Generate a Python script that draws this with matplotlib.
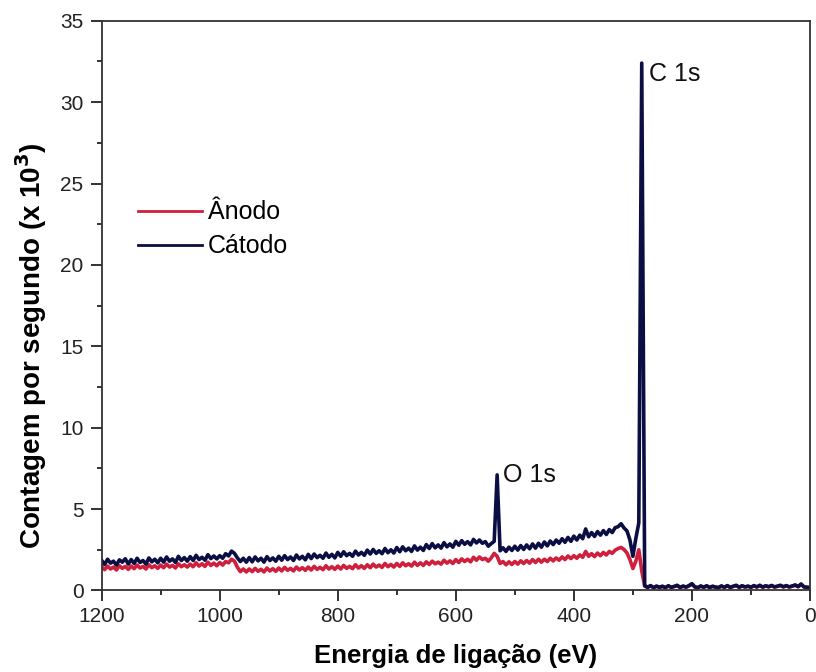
import matplotlib
matplotlib.use("Agg")
import matplotlib.pyplot as plt
from matplotlib.ticker import MultipleLocator

plt.rcParams['font.family'] = ['Liberation Sans', 'DejaVu Sans']

# Binding energy grid (eV), 1200 -> 0 in 5 eV steps
energia = list(range(1200, -1, -5))

catodo = [
    1.85, 1.60, 1.92, 1.68, 1.80, 1.56, 1.88, 1.74, 1.95, 1.62,
    1.90, 1.66, 1.98, 1.72, 1.84, 1.62, 2.00, 1.76, 1.92, 1.70,
    1.98, 1.74, 2.06, 1.80, 1.94, 1.72, 2.10, 1.84, 2.02, 1.80,
    2.08, 1.84, 2.16, 1.90, 2.04, 1.86, 2.20, 1.96, 2.12, 1.94,
    2.14, 1.98, 2.26, 2.12, 2.42, 2.28, 2.00, 1.78, 1.98, 1.74,
    2.02, 1.76, 2.06, 1.82, 1.98, 1.74, 2.08, 1.84, 2.00, 1.80,
    2.10, 1.86, 2.14, 1.90, 2.06, 1.84, 2.18, 1.94, 2.10, 1.88,
    2.22, 1.96, 2.24, 2.02, 2.16, 1.98, 2.30, 2.04, 2.22, 2.00,
    2.34, 2.10, 2.38, 2.14, 2.28, 2.10, 2.42, 2.18, 2.34, 2.16,
    2.48, 2.24, 2.52, 2.28, 2.44, 2.26, 2.58, 2.32, 2.50, 2.30,
    2.64, 2.38, 2.68, 2.44, 2.60, 2.40, 2.74, 2.48, 2.66, 2.46,
    2.82, 2.58, 2.88, 2.62, 2.80, 2.60, 2.94, 2.68, 2.86, 2.66,
    3.02, 2.78, 3.06, 2.84, 3.00, 2.80, 3.14, 2.92, 3.10, 2.90,
    3.00, 2.72, 2.88, 3.02, 7.10, 2.44, 2.62, 2.40, 2.66, 2.46,
    2.72, 2.48, 2.76, 2.52, 2.80, 2.56, 2.86, 2.60, 2.90, 2.66,
    2.98, 2.74, 3.04, 2.82, 3.10, 2.90, 3.18, 2.96, 3.26, 3.02,
    3.34, 3.10, 3.40, 3.18, 3.78, 3.30, 3.56, 3.32, 3.62, 3.40,
    3.68, 3.44, 3.74, 3.56, 3.86, 3.92, 4.10, 3.84, 3.66, 3.10,
    2.10, 3.20, 4.15, 32.40, 0.30, 0.20, 0.30, 0.18, 0.27, 0.20,
    0.26, 0.18, 0.29, 0.20, 0.25, 0.32, 0.19, 0.27, 0.21, 0.30,
    0.42, 0.22, 0.18, 0.28, 0.20, 0.29, 0.19, 0.26, 0.21, 0.18,
    0.28, 0.20, 0.30, 0.19, 0.26, 0.32, 0.20, 0.29, 0.22, 0.27,
    0.20, 0.30, 0.22, 0.32, 0.21, 0.29, 0.23, 0.31, 0.22, 0.27,
    0.32, 0.23, 0.30, 0.22, 0.28, 0.34, 0.24, 0.40, 0.22, 0.20,
    0.18,
]

anodo = [
    1.46, 1.28, 1.50, 1.32, 1.44, 1.26, 1.52, 1.36, 1.48, 1.30,
    1.50, 1.34, 1.56, 1.38, 1.48, 1.32, 1.58, 1.40, 1.52, 1.36,
    1.56, 1.40, 1.62, 1.44, 1.54, 1.38, 1.64, 1.46, 1.58, 1.44,
    1.62, 1.46, 1.70, 1.50, 1.64, 1.48, 1.74, 1.54, 1.68, 1.52,
    1.72, 1.56, 1.78, 1.70, 1.92, 1.80, 1.42, 1.16, 1.32, 1.14,
    1.32, 1.16, 1.36, 1.18, 1.30, 1.14, 1.38, 1.20, 1.34, 1.18,
    1.38, 1.20, 1.42, 1.24, 1.36, 1.20, 1.44, 1.26, 1.40, 1.24,
    1.44, 1.26, 1.48, 1.30, 1.42, 1.28, 1.52, 1.32, 1.46, 1.30,
    1.50, 1.32, 1.54, 1.36, 1.48, 1.34, 1.58, 1.38, 1.52, 1.36,
    1.58, 1.40, 1.62, 1.44, 1.56, 1.42, 1.66, 1.46, 1.60, 1.44,
    1.66, 1.48, 1.70, 1.52, 1.64, 1.50, 1.74, 1.54, 1.70, 1.54,
    1.76, 1.60, 1.80, 1.64, 1.74, 1.62, 1.86, 1.68, 1.82, 1.66,
    1.90, 1.72, 1.94, 1.78, 1.92, 1.76, 2.04, 1.86, 2.06, 1.90,
    1.98, 1.80, 2.00, 2.28, 2.10, 1.66, 1.78, 1.58, 1.76, 1.60,
    1.78, 1.62, 1.82, 1.66, 1.84, 1.68, 1.90, 1.72, 1.92, 1.74,
    1.92, 1.78, 1.98, 1.82, 2.00, 1.86, 2.06, 1.90, 2.12, 1.96,
    2.14, 1.98, 2.18, 2.04, 2.40, 2.10, 2.26, 2.08, 2.30, 2.14,
    2.34, 2.18, 2.40, 2.28, 2.48, 2.58, 2.64, 2.52, 2.30, 1.90,
    1.35, 1.80, 2.50, 1.20, 0.26, 0.19, 0.28, 0.17, 0.25, 0.19,
    0.25, 0.17, 0.27, 0.19, 0.24, 0.30, 0.18, 0.26, 0.20, 0.28,
    0.38, 0.21, 0.17, 0.26, 0.19, 0.27, 0.18, 0.25, 0.20, 0.17,
    0.26, 0.19, 0.28, 0.18, 0.25, 0.30, 0.19, 0.27, 0.21, 0.25,
    0.19, 0.28, 0.21, 0.30, 0.20, 0.27, 0.22, 0.29, 0.21, 0.25,
    0.30, 0.22, 0.28, 0.21, 0.26, 0.32, 0.23, 0.37, 0.21, 0.19,
    0.17,
]

series_labels = ["Ânodo", "Cátodo"]
pico_rotulos = ["C 1s", "O 1s"]
pico_energias = [285, 530]

RED = "#cf1f3d"
NAVY = "#0b0e42"

fig = plt.figure(figsize=(8.16, 6.72), dpi=100)
ax = fig.add_axes([0.1246, 0.1213, 0.868, 0.8478])

ax.plot(energia, anodo, color=RED, lw=2.6, label=series_labels[0])
ax.plot(energia, catodo, color=NAVY, lw=2.6, label=series_labels[1])

ax.set_xlim(1200, 0)
ax.set_ylim(0, 35)
ax.xaxis.set_major_locator(MultipleLocator(200))
ax.xaxis.set_minor_locator(MultipleLocator(100))
ax.yaxis.set_major_locator(MultipleLocator(5))
ax.yaxis.set_minor_locator(MultipleLocator(2.5))
ax.tick_params(which="major", direction="out", length=8, width=1.3, labelsize=15,
               colors="#222222")
ax.tick_params(axis="x", which="major", pad=4)
ax.tick_params(axis="y", which="major", pad=5)
ax.tick_params(which="minor", direction="out", length=3.8, width=1.3, colors="#222222")
for s in ax.spines.values():
    s.set_linewidth(1.3)
    s.set_color("#333333")

ax.set_xlabel("Energia de ligação (eV)", fontsize=18.5, fontweight="bold")
ax.xaxis.set_label_coords(0.5, -0.094)
ax.set_ylabel(r"Contagem por segundo (x 10$^\mathbf{3}$)", fontsize=20, fontweight="bold")
ax.yaxis.set_label_coords(-0.075, 0.43)

# Peak labels, placed next to the top of each Cátodo peak
offsets = {"C 1s": (5, -7.5), "O 1s": (4, 0)}
for rot, e in zip(pico_rotulos, pico_energias):
    y = catodo[energia.index(e)]
    ax.annotate(rot, xy=(e, y), xytext=offsets[rot], textcoords="offset points",
                fontsize=18, ha="left", va="center", color="#111111")

leg = ax.legend(loc="center left", bbox_to_anchor=(0.051, 0.634), frameon=False,
                fontsize=18, handlelength=2.55, handletextpad=0.25, labelspacing=0.4,
                borderaxespad=0, borderpad=0)
for h in leg.get_lines():
    h.set_linewidth(2.0)

fig.savefig("out.png", dpi=100)
